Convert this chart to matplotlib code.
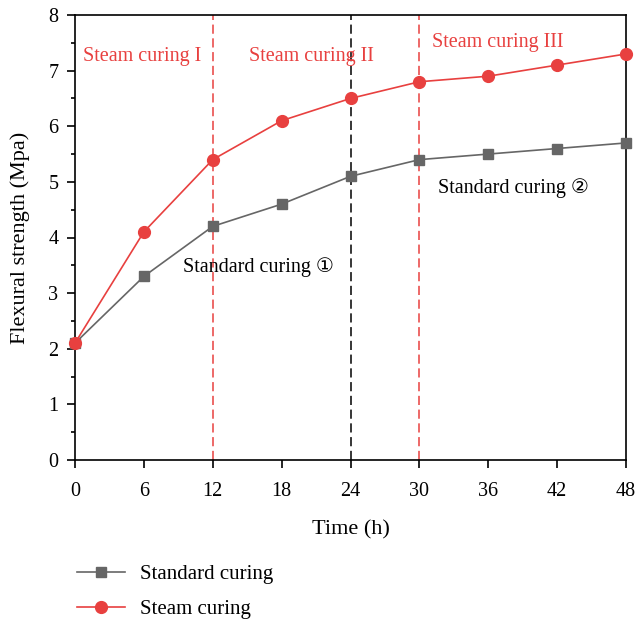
import numpy as np
import matplotlib
matplotlib.use("Agg")
import matplotlib.pyplot as plt
from matplotlib.ticker import MultipleLocator

plt.rcParams['font.family'] = ['Liberation Serif', 'DejaVu Sans']

# data
time_h = [0, 6, 12, 18, 24, 30, 36, 42, 48]
standard = [2.1, 3.3, 4.2, 4.6, 5.1, 5.4, 5.5, 5.6, 5.7]
steam = [2.1, 4.1, 5.4, 6.1, 6.5, 6.8, 6.9, 7.1, 7.3]
red_lines = [12, 30]
black_lines = [24]

red = '#e8403f'
gray = '#666666'

fig = plt.figure(figsize=(6.35, 6.25), dpi=100)
ax = fig.add_axes([0.118, 0.264, 0.868, 0.712])

l1, = ax.plot(time_h, standard, color=gray, lw=1.2, marker='s', ms=7.5,
              label='Standard curing', clip_on=False, zorder=3)
l2, = ax.plot(time_h, steam, color=red, lw=1.2, marker='o', ms=8.5,
              label='Steam curing', clip_on=False, zorder=4)

for x in red_lines:
    ax.axvline(x, color=red, ls=(0, (6, 3)), lw=1.1, zorder=2)
for x in black_lines:
    ax.axvline(x, color='black', ls=(0, (6, 3)), lw=1.1, zorder=2)

ax.set_xlim(0, 48)
ax.set_ylim(0, 8)
ax.set_xticks(time_h)
ax.yaxis.set_major_locator(MultipleLocator(1))
ax.yaxis.set_minor_locator(MultipleLocator(0.5))
ax.tick_params(axis='both', which='major', direction='out', length=6,
               width=1.2, labelsize=14.5)
ax.tick_params(axis='y', which='minor', direction='out', length=3, width=1.2)
ax.tick_params(axis='x', pad=10)
ax.tick_params(axis='y', pad=6)
for s in ax.spines.values():
    s.set_linewidth(1.2)

ax.set_xlabel('Time (h)', fontsize=16, labelpad=14)
ax.set_ylabel('Flexural strength (Mpa)', fontsize=16, labelpad=13)

ax.text(0.7, 7.25, 'Steam curing I', color=red, fontsize=14.5, va='center')
ax.text(15.2, 7.25, 'Steam curing II', color=red, fontsize=14.5, va='center')
ax.text(31.1, 7.5, 'Steam curing III', color=red, fontsize=14.5, va='center')
ax.text(9.4, 3.47, 'Standard curing \u2460', color='black', fontsize=14.5, va='center')
ax.text(31.6, 4.89, 'Standard curing \u2461', color='black', fontsize=14.5, va='center')

fig.legend(handles=[l1, l2], loc='upper left', bbox_to_anchor=(0.092, 0.127),
           frameon=False, fontsize=15, handlelength=2.3, labelspacing=0.75,
           handletextpad=0.7)

fig.savefig('out.png', dpi=100)
